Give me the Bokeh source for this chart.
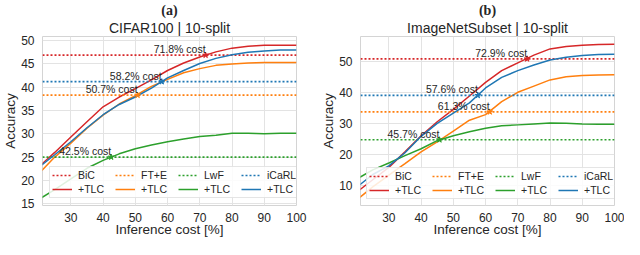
from bokeh.plotting import figure
from bokeh.models import Range1d, FixedTicker, Title, Legend, LegendItem
from bokeh.layouts import row
from bokeh.embed import file_html
from bokeh.resources import INLINE
from bokeh.core.properties import value

# ---------------- data ----------------
methods = ["BiC", "FT+E", "LwF", "iCaRL"]
colors = ["#d62728", "#ff7f0e", "#2ca02c", "#1f77b4"]

cost_x = [21, 25, 30, 35, 40, 45, 50, 55, 60, 65, 70, 75, 80, 85, 90, 95, 100]

# CIFAR100 | 10-split
cifar_bic_tlc   = [23.5, 26.0, 29.3, 32.6, 35.8, 37.9, 39.7, 41.6, 43.6, 45.2, 46.5, 47.6, 48.4, 48.8, 49.0, 49.0, 49.0]
cifar_fte_tlc   = [22.1, 25.0, 28.0, 31.2, 34.0, 36.4, 38.2, 40.2, 41.7, 43.1, 44.0, 44.7, 45.0, 45.2, 45.3, 45.3, 45.3]
cifar_lwf_tlc   = [16.3, 18.0, 20.3, 22.6, 24.3, 25.7, 26.8, 27.6, 28.3, 28.9, 29.4, 29.7, 30.1, 30.1, 30.0, 30.1, 30.1]
cifar_icarl_tlc = [23.3, 25.5, 28.3, 31.3, 34.1, 36.3, 37.9, 39.8, 42.0, 43.6, 45.1, 46.2, 47.0, 47.5, 47.8, 48.0, 48.0]
cifar_baselines = [46.9, 38.3, 25.0, 41.2]
cifar_costs     = [71.8, 50.7, 42.5, 58.2]

# ImageNetSubset | 10-split
imnet_bic_tlc   = [8.6, 11.8, 15.8, 20.8, 26.0, 30.5, 34.5, 38.8, 43.2, 47.0, 49.5, 52.0, 54.0, 54.8, 55.2, 55.4, 55.5]
imnet_fte_tlc   = [6.1, 9.5, 13.3, 17.0, 20.8, 24.0, 27.5, 31.0, 32.8, 37.0, 40.0, 42.0, 44.0, 45.0, 45.4, 45.6, 45.7]
imnet_lwf_tlc   = [12.6, 15.0, 17.2, 19.6, 21.8, 24.4, 26.0, 27.3, 28.4, 29.2, 29.5, 29.8, 30.1, 30.0, 29.8, 29.7, 29.7]
imnet_icarl_tlc = [10.2, 13.5, 16.3, 20.5, 25.8, 30.0, 33.3, 36.6, 41.4, 44.8, 47.0, 48.8, 50.4, 51.3, 51.9, 52.2, 52.3]
imnet_baselines = [50.8, 33.7, 24.7, 39.0]
imnet_costs     = [72.9, 61.3, 45.7, 57.6]

x_ticks = [30, 40, 50, 60, 70, 80, 90, 100]
cifar_yticks = [15, 20, 25, 30, 35, 40, 45, 50]
imnet_yticks = [10, 20, 30, 40, 50]

X_RANGE = (21.2, 100)
FONT = "Liberation Sans"
TXT = "#262626"


def panel(tag, title, curves, baselines, costs, y_range, y_ticks, width,
          border_right, leg_margin):
    p = figure(width=width, height=239, x_range=Range1d(*X_RANGE),
               y_range=Range1d(*y_range), output_backend="svg",
               toolbar_location=None, min_border_left=31,
               min_border_right=border_right, min_border_top=27,
               min_border_bottom=26, title=None)
    p.add_layout(Title(text=title, align="center", text_font=FONT,
                       text_font_size="14px", text_font_style="normal",
                       text_color=TXT, standoff=1), "above")
    p.add_layout(Title(text=tag, align="center", text_font="Liberation Serif",
                       text_font_size="14px", text_font_style="bold",
                       text_color=TXT, standoff=0), "above")
    p.outline_line_color = "#d4d4d4"
    p.outline_line_width = 1
    for ax in (p.xaxis, p.yaxis):
        ax.axis_line_color = None
        ax.major_tick_line_color = None
        ax.minor_tick_line_color = None
        ax.major_label_text_font = FONT
        ax.major_label_text_font_size = "12px"
        ax.major_label_text_color = TXT
        ax.axis_label_text_font = FONT
        ax.axis_label_text_font_size = "13.5px"
        ax.axis_label_text_font_style = "normal"
        ax.axis_label_text_color = TXT
        ax.major_label_standoff = 2
        ax.axis_label_standoff = 0
    p.xaxis.major_label_standoff = 1
    p.xaxis.axis_label_standoff = -3
    p.xaxis.ticker = FixedTicker(ticks=x_ticks)
    p.yaxis.ticker = FixedTicker(ticks=y_ticks)
    p.xaxis.axis_label = "Inference cost [%]"
    p.yaxis.axis_label = "Accuracy"
    p.grid.grid_line_color = "#e3e3e3"
    p.grid.grid_line_width = 1

    items = []
    for name, col, ys, base, cost in zip(methods, colors, curves, baselines, costs):
        rb = p.line(x=list(X_RANGE), y=[base, base], line_color=col,
                    line_width=1.6, line_dash="2 2")
        rc = p.line(x=cost_x, y=ys, line_color=col, line_width=1.5)
        items.append(LegendItem(label=value(name), renderers=[rb]))
        items.append(LegendItem(label=value("+TLC"), renderers=[rc]))
    for col, base, cost in zip(colors, baselines, costs):
        p.scatter(x=[cost], y=[base], marker="star", size=6, fill_color=col,
                  line_color=col)
        p.text(x=[cost], y=[base], text=[f"{cost}% cost"], text_align="right",
               text_baseline="bottom", y_offset=0, text_color=TXT,
               text_font=value(FONT), text_font_size="10.5px")

    leg = Legend(items=items, orientation="vertical", nrows=2,
                 location="bottom_left", margin=leg_margin, padding=2,
                 spacing=2, glyph_width=20, glyph_height=10, label_height=10,
                 label_width=35, label_standoff=6,
                 label_text_font=FONT, label_text_font_size="10.5px",
                 label_text_color=TXT, border_line_color="#cccccc",
                 background_fill_alpha=0.85)
    p.add_layout(leg, "center")
    return p


p1 = panel("(a)", "CIFAR100 | 10-split",
           [cifar_bic_tlc, cifar_fte_tlc, cifar_lwf_tlc, cifar_icarl_tlc],
           cifar_baselines, cifar_costs, (14.6, 50.9), cifar_yticks,
           width=318, border_right=22, leg_margin=7)
p2 = panel("(b)", "ImageNetSubset | 10-split",
           [imnet_bic_tlc, imnet_fte_tlc, imnet_lwf_tlc, imnet_icarl_tlc],
           imnet_baselines, imnet_costs, (3.5, 58.0), imnet_yticks,
           width=306, border_right=10, leg_margin=6)

layout = row(p1, p2)
open("out.html", "w").write(file_html(layout, INLINE))
